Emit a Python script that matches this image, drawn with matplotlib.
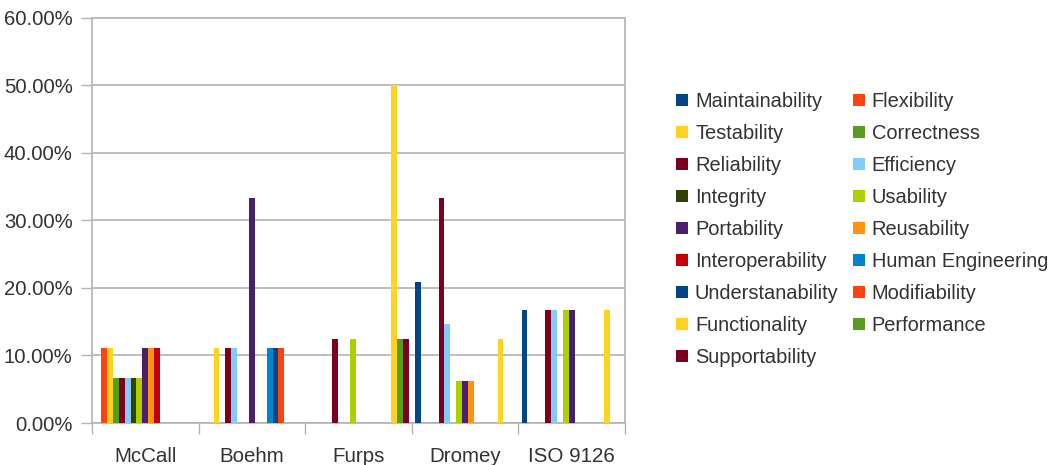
import numpy as np
import matplotlib
matplotlib.use("Agg")
import matplotlib.pyplot as plt
from matplotlib.ticker import FixedLocator, PercentFormatter

plt.rcParams['font.family'] = ['Liberation Sans', 'DejaVu Sans']

models = ["McCall", "Boehm", "Furps", "Dromey", "ISO 9126"]

# series in legend order (row-wise), values in percent per model
factors = ["Maintainability", "Flexibility", "Testability", "Correctness",
           "Reliability", "Efficiency", "Integrity", "Usability",
           "Portability", "Reusability", "Interoperability", "Human Engineering",
           "Understanability", "Modifiability", "Functionality", "Performance",
           "Supportability"]

maintainability   = [0, 0, 0, 20.83, 16.67]
flexibility       = [11.11, 0, 0, 0, 0]
testability       = [11.11, 11.11, 0, 0, 0]
correctness       = [6.67, 0, 0, 0, 0]
reliability       = [6.67, 11.11, 12.5, 33.33, 16.67]
efficiency        = [6.67, 11.11, 0, 14.58, 16.67]
integrity         = [6.67, 0, 0, 0, 0]
usability         = [6.67, 0, 12.5, 6.25, 16.67]
portability       = [11.11, 33.33, 0, 6.25, 16.67]
reusability       = [11.11, 0, 0, 6.25, 0]
interoperability  = [11.11, 0, 0, 0, 0]
human_engineering = [0, 11.11, 0, 0, 0]
understanability  = [0, 11.11, 0, 0, 0]
modifiability     = [0, 11.11, 0, 0, 0]
functionality     = [0, 0, 50.0, 12.5, 16.67]
performance       = [0, 0, 12.5, 0, 0]
supportability    = [0, 0, 12.5, 0, 0]

values = [maintainability, flexibility, testability, correctness, reliability,
          efficiency, integrity, usability, portability, reusability,
          interoperability, human_engineering, understanability, modifiability,
          functionality, performance, supportability]

palette = ["#004586", "#ff420e", "#ffd320", "#579d1c", "#7e0021", "#83caff",
           "#314004", "#aecf00", "#4b1f6f", "#ff950e", "#c5000b", "#0084d1"]
colors = [palette[i % len(palette)] for i in range(len(factors))]

text_col = "#333333"
grid_col = "#b3b3b3"

fig = plt.figure(figsize=(10.6, 4.65), dpi=100)
ax = fig.add_axes([92/1060, 42/465, (625-92)/1060, (447.5-42)/465])

x = np.arange(len(models))
n = len(factors)
w = 0.0553
handles = []
for i, (name, vals) in enumerate(zip(factors, values)):
    b = ax.bar(x + (i - (n - 1) / 2) * w, vals, width=w, color=colors[i],
               label=name, zorder=3, linewidth=0)
    handles.append(b)

ax.set_xlim(-0.5, len(models) - 0.5)
ax.set_ylim(0, 60)
ax.set_yticks(np.arange(0, 61, 10))
ax.yaxis.set_major_formatter(PercentFormatter(decimals=2))
ax.yaxis.grid(True, color=grid_col, linewidth=1.2, zorder=0)

ax.xaxis.set_major_locator(FixedLocator(np.arange(-0.5, len(models), 1.0)))
ax.xaxis.set_minor_locator(FixedLocator(x))
ax.set_xticklabels([])
ax.set_xticklabels(models, minor=True)
ax.tick_params(axis='x', which='major', length=8, width=1, color=grid_col)
ax.tick_params(axis='x', which='minor', length=0, pad=17, labelsize=14.8,
               labelcolor=text_col)
ax.tick_params(axis='y', length=8, width=1, color=grid_col, pad=6,
               labelsize=14.6, labelcolor=text_col)

for side in ["left", "right", "bottom", "top"]:
    ax.spines[side].set_color(grid_col)
    ax.spines[side].set_linewidth(1.2)
ax.spines["top"].set_visible(False)

# legend filled row by row: reorder for matplotlib's column-first layout
order = list(range(0, n, 2)) + list(range(1, n, 2))
fig.legend([handles[i] for i in order], [factors[i] for i in order],
           ncol=2, loc='upper left', bbox_to_anchor=(676/1060, 1 - 92/465),
           frameon=False, fontsize=14.4, labelcolor=text_col,
           handlelength=0.6, handleheight=0.6, handletextpad=0.35,
           labelspacing=0.65, columnspacing=0.7, borderpad=0, borderaxespad=0)

fig.savefig("out.png", dpi=100)
